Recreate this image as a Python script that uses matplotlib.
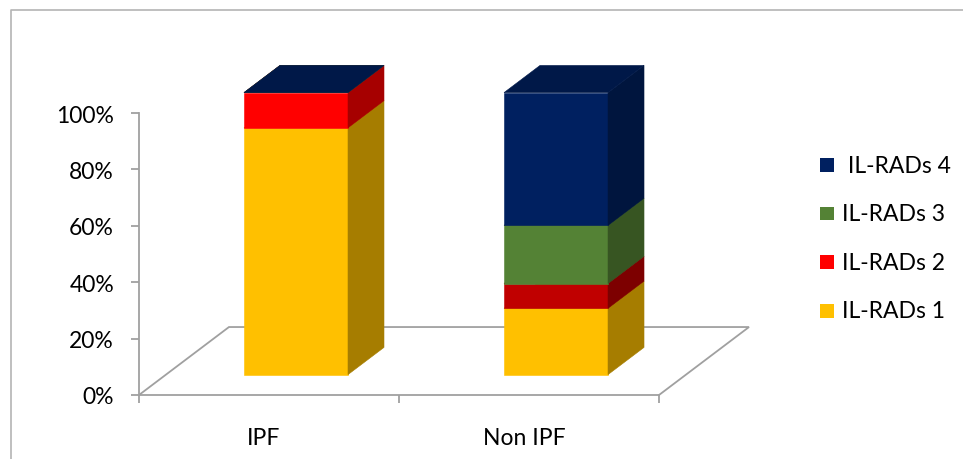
import matplotlib.pyplot as plt
from matplotlib.patches import Polygon, Rectangle
from matplotlib.lines import Line2D
from matplotlib.ticker import PercentFormatter
from matplotlib.colors import to_rgb

plt.rcParams["font.family"] = ["Lato", "DejaVu Sans"]

categories = ["IPF", "Non IPF"]
series_labels = ["IL-RADs 1", "IL-RADs 2", "IL-RADs 3", "IL-RADs 4"]
rads1 = [87.5, 23.5]
rads2 = [12.5, 8.8]
rads3 = [0.0, 20.6]
rads4 = [0.0, 47.1]
series_values = [rads1, rads2, rads3, rads4]

# face colour per series, one entry per category
series_colors = [
    ["#FFC000", "#FFC000"],
    ["#FF0000", "#C00000"],
    ["#548235", "#548235"],
    ["#002060", "#002060"],
]
legend_colors = ["#FFC000", "#FF0000", "#548235", "#002060"]

GRID = "#A0A0A0"
FONT_SIZE = 16.5
FLOOR_DX = 0.346   # floor depth in category units
FLOOR_DY = 24.1    # floor depth in percent units
BAR_W = 0.4
D0, D1 = 0.3, 0.7  # bar depth range as fraction of floor depth


def shade(color, k):
    r, g, b = to_rgb(color)
    return (r * k, g * k, b * k)


def face(ax, pts, color):
    ax.add_patch(Polygon(pts, closed=True, facecolor=color, edgecolor=color,
                         linewidth=0.4, zorder=3, clip_on=False))


fig = plt.figure(figsize=(9.63, 4.60), dpi=100)
ax = fig.add_axes([0, 0, 1, 1])
ax.set_xlim(-1.0346, 2.669)
ax.set_ylim(-22.70, 140.43)
ax.patch.set_alpha(0)

# chart frame
fig.add_artist(Line2D([0.0114, 0.0114, 1.0], [0.0, 0.976, 0.976],
                      transform=fig.transFigure, color="#B4B4B4", lw=1.2))

# floor outline (front edge is the bottom spine)
ax.plot([1.5, 1.5 + FLOOR_DX, -0.5 + FLOOR_DX, -0.5],
        [0, FLOOR_DY, FLOOR_DY, 0], color=GRID, lw=1.3, zorder=1,
        solid_joinstyle="miter")

# stacked 3D bars; each segment's top is hidden by the segment above it,
# zero-height segments still paint their top
for i in range(len(categories)):
    base = 0.0
    xl = i - BAR_W / 2 + D0 * FLOOR_DX
    xr = xl + BAR_W
    sx = (D1 - D0) * FLOOR_DX
    y0 = D0 * FLOOR_DY
    y1 = D1 * FLOOR_DY
    for s, vals in enumerate(series_values):
        v = vals[i]
        col = series_colors[s][i]
        top = base + v
        if v > 0:
            face(ax, [(xl, base + y0), (xr, base + y0), (xr, top + y0), (xl, top + y0)], col)
            face(ax, [(xr, base + y0), (xr + sx, base + y1), (xr + sx, top + y1), (xr, top + y0)],
                 shade(col, 0.65))
        face(ax, [(xl, top + y0), (xr, top + y0), (xr + sx, top + y1), (xl + sx, top + y1)],
             shade(col, 0.75))
        base = top

# axes, ticks and labels
for side in ["top", "right"]:
    ax.spines[side].set_visible(False)
ax.spines["left"].set_position(("data", -0.5))
ax.spines["left"].set_bounds(0, 100)
ax.spines["bottom"].set_position(("data", 0))
ax.spines["bottom"].set_bounds(-0.5, 1.5)
for side in ["left", "bottom"]:
    ax.spines[side].set_color(GRID)
    ax.spines[side].set_linewidth(1.3)

ax.set_yticks(range(0, 101, 20))
ax.yaxis.set_major_formatter(PercentFormatter(decimals=0))
ax.tick_params(axis="y", length=6, width=1.3, color=GRID, pad=12,
               labelsize=FONT_SIZE, labelcolor="black")

ax.set_xticks([-0.5, 0.5, 1.5])
ax.set_xticklabels(["", "", ""])
ax.set_xticks([-0.02, 0.98], minor=True)
ax.set_xticklabels(categories, minor=True)
ax.tick_params(axis="x", which="major", length=6, width=1.3, color=GRID)
ax.tick_params(axis="x", which="minor", length=0, pad=23,
               labelsize=FONT_SIZE, labelcolor="black")

# legend, top entry first
leg_x, leg_top, leg_step = 0.8515, 0.639, 0.1055
for k, s in enumerate(reversed(range(len(series_labels)))):
    yc = leg_top - k * leg_step
    fig.add_artist(Rectangle((leg_x, yc - 0.015), 0.0145, 0.030,
                             transform=fig.transFigure, facecolor=legend_colors[s],
                             edgecolor="none"))
    label = series_labels[s]
    if s == 3:
        label = " " + label
    fig.text(leg_x + 0.0225, yc, label, fontsize=FONT_SIZE, va="center", ha="left",
             color="black")

fig.savefig("out.png", dpi=100)
